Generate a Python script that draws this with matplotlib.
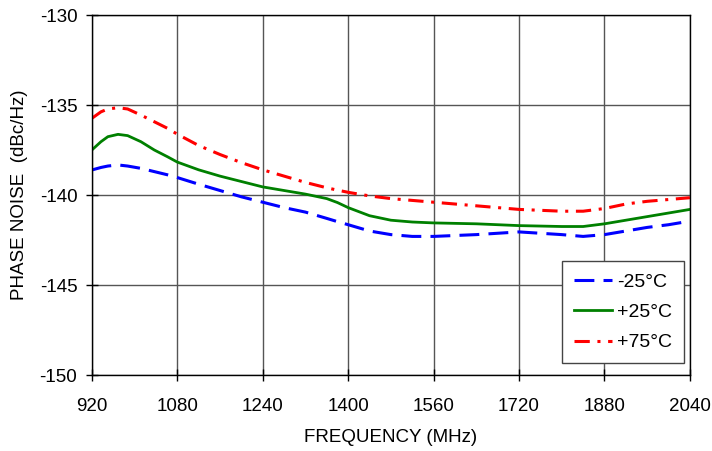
import matplotlib
matplotlib.use("Agg")
import matplotlib.pyplot as plt

freq = [920, 937, 950, 969, 987, 1012, 1037, 1062, 1080, 1120, 1160, 1200, 1240, 1280,
        1320, 1360, 1380, 1400, 1440, 1480, 1520, 1560, 1640, 1720, 1800, 1840, 1880, 1920,
        1960, 2000, 2040]
pn_m25 = [-138.61, -138.47, -138.39, -138.33, -138.39, -138.52, -138.7, -138.88, -139.03,
          -139.4, -139.75, -140.1, -140.4, -140.7, -140.95, -141.3, -141.48, -141.65, -142.0,
          -142.2, -142.3, -142.3, -142.2, -142.05, -142.2, -142.3, -142.2, -142.0, -141.8,
          -141.65, -141.45]
pn_p25 = [-137.5, -137.04, -136.76, -136.63, -136.7, -137.04, -137.5, -137.88, -138.17,
          -138.6, -138.95, -139.25, -139.55, -139.75, -139.95, -140.2, -140.42, -140.7, -141.15,
          -141.4, -141.5, -141.55, -141.6, -141.7, -141.75, -141.75, -141.6, -141.4, -141.2,
          -141.0, -140.8]
pn_p75 = [-135.74, -135.38, -135.22, -135.15, -135.22, -135.56, -135.93, -136.3, -136.62,
          -137.25, -137.75, -138.2, -138.6, -138.95, -139.3, -139.6, -139.73, -139.85, -140.05,
          -140.2, -140.3, -140.4, -140.6, -140.8, -140.9, -140.9, -140.75, -140.5, -140.35,
          -140.25, -140.15]

xticks = [920, 1080, 1240, 1400, 1560, 1720, 1880, 2040]
yticks = [-150, -145, -140, -135, -130]

plt.rcParams['font.family'] = ['Liberation Sans', 'DejaVu Sans']
plt.rcParams['axes.unicode_minus'] = False

fig = plt.figure(figsize=(7.12, 4.51), dpi=100)
ax = fig.add_axes([0.129, 0.1685, 0.84, 0.7982])

ax.plot(freq, pn_m25, color='#0000ff', lw=2.2, dashes=(6.5, 3), label='-25°C')
ax.plot(freq, pn_p25, color='#008000', lw=2.0, label='+25°C')
ax.plot(freq, pn_p75, color='#ff0000', lw=2.2, dashes=(5, 2.5, 1, 2.5), label='+75°C')

ax.set_xlim(920, 2040)
ax.set_ylim(-150, -130)
ax.set_xticks(xticks)
ax.set_yticks(yticks)
ax.tick_params(labelsize=13.5, direction='inout', length=9, width=1.0, color='black')
ax.tick_params(axis='x', pad=12)
ax.tick_params(axis='y', pad=6)
ax.grid(True, color='#555555', lw=1.0)
ax.set_axisbelow(True)
for s in ax.spines.values():
    s.set_color('black')
    s.set_linewidth(1.0)

ax.set_xlabel('FREQUENCY (MHz)', fontsize=13.5, labelpad=10)
ax.set_ylabel('PHASE NOISE  (dBc/Hz)', fontsize=13.5, labelpad=8)

leg = ax.legend(loc='lower right', bbox_to_anchor=(0.99, 0.033), borderaxespad=0,
                fontsize=14, fancybox=False, framealpha=1, edgecolor='#444444',
                handlelength=2.0, labelspacing=0.66, borderpad=0.6, handletextpad=0.25)
leg.get_frame().set_linewidth(1.0)

fig.savefig('out.png', dpi=100)
